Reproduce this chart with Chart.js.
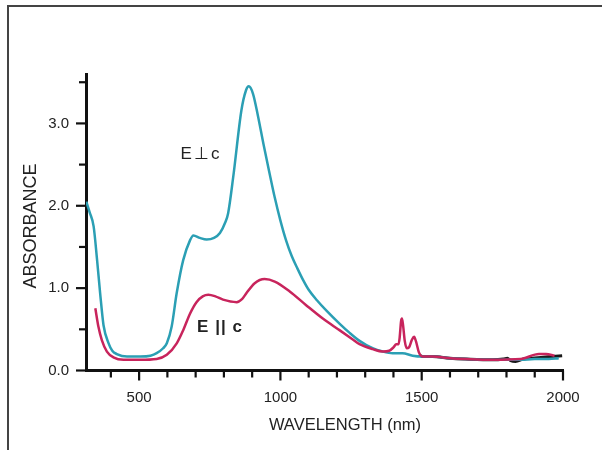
<!DOCTYPE html>
<html><head><meta charset="utf-8">
<script src="https://cdn.jsdelivr.net/npm/chart.js@4/dist/chart.umd.min.js"></script>
<style>
html,body{margin:0;padding:0;background:#fff;}
#wrap{position:relative;width:602px;height:450px;overflow:hidden;background:#fff;}
#frame{position:absolute;left:7px;top:5px;width:600px;height:450px;border-top:2px solid #444;border-left:2px solid #444;pointer-events:none;}
canvas{position:absolute;left:0;top:0;}
.t{position:absolute;font-family:"Liberation Sans",Arial,sans-serif;color:#222;white-space:nowrap;transform:translate(-50%,-50%);}
</style></head><body>
<div id="wrap">
<canvas id="c" width="602" height="450"></canvas>
<div id="frame"></div>
<div class="t" style="left:345px;top:424px;font-size:16.5px;">WAVELENGTH (nm)</div>
<div class="t" style="left:30px;top:226px;font-size:18px;transform:translate(-50%,-50%) rotate(-90deg);">ABSORBANCE</div>
<div class="t" style="left:201px;top:153px;font-size:17px;letter-spacing:2px;">E⊥c</div>
<div class="t" style="left:220px;top:327px;font-size:17px;font-weight:bold;letter-spacing:1px;">E || c</div>
</div>
<script>
// E perpendicular c (teal)
const perpWl  = [313,325,339,351,362,374,392,405,421,457,504,540,562,585,598,615,633,656,680,692,715,739,765,786,805,815,833,862,878,888,903,920,940,960,980,1000,1020,1040,1060,1080,1100,1130,1162,1209,1244,1280,1326,1362,1397,1432,1468,1503,1538,1600,1656,1750,1850,1900,1950,1985];
const perpAbs = [2.05,1.92,1.75,1.35,0.94,0.55,0.33,0.24,0.20,0.17,0.17,0.18,0.21,0.27,0.33,0.53,0.94,1.34,1.58,1.64,1.61,1.59,1.61,1.67,1.80,1.91,2.35,3.16,3.40,3.45,3.36,3.10,2.75,2.42,2.10,1.82,1.58,1.39,1.24,1.10,0.98,0.85,0.73,0.57,0.46,0.36,0.27,0.23,0.21,0.21,0.18,0.17,0.17,0.15,0.14,0.13,0.13,0.14,0.14,0.15];
// E parallel c (magenta)
const parWl  = [345,356,368,386,409,445,503,562,598,633,656,680,703,725,745,770,797,845,865,880,909,944,980,1033,1092,1150,1209,1255,1280,1326,1362,1385,1400,1410,1418,1422,1427,1430,1434,1440,1447,1455,1465,1473,1480,1490,1503,1538,1600,1656,1750,1850,1915,1940,1970];
const parAbs = [0.755,0.53,0.37,0.23,0.16,0.13,0.13,0.14,0.19,0.33,0.49,0.69,0.83,0.90,0.92,0.90,0.86,0.83,0.87,0.94,1.06,1.11,1.08,0.96,0.79,0.63,0.49,0.38,0.32,0.26,0.23,0.24,0.28,0.32,0.32,0.40,0.60,0.63,0.55,0.36,0.27,0.28,0.37,0.41,0.35,0.22,0.17,0.17,0.15,0.14,0.13,0.14,0.20,0.20,0.18];
// shared black trace at long wavelengths
const tailWl  = [1490,1503,1538,1600,1656,1750,1790,1803,1815,1832,1860,1891,1930,1962,1997];
const tailAbs = [0.19,0.17,0.17,0.15,0.14,0.13,0.14,0.15,0.12,0.11,0.14,0.15,0.16,0.17,0.18];

const xTickValues  = [400,500,600,700,800,900,1000,1100,1200,1300,1400,1500,1600,1700,1800,1900,2000];
const xLabelValues = [500,1000,1500,2000];
const yTickValues  = [0,0.5,1,1.5,2,2.5,3,3.5];
const yLabelValues = [0,1,2,3];

const pts = (w,a)=>w.map((x,i)=>({x:x,y:a[i]}));

const tickPlugin = {
  id:'tickMarks',
  afterDraw(chart){
    const c=chart.ctx, xs=chart.scales.x, ys=chart.scales.y, ca=chart.chartArea;
    c.save(); c.strokeStyle='#111'; c.lineWidth=2.2; c.lineCap='butt';
    xTickValues.forEach(v=>{
      const px=xs.getPixelForValue(v); const len=xLabelValues.includes(v)?10:7;
      c.beginPath(); c.moveTo(px,ca.bottom); c.lineTo(px,ca.bottom+len); c.stroke();
    });
    yTickValues.forEach(v=>{
      const py=ys.getPixelForValue(v); const len=yLabelValues.includes(v)?10:7;
      c.beginPath(); c.moveTo(ca.left,py); c.lineTo(ca.left-len,py); c.stroke();
    });
    c.restore();
  }
};

new Chart(document.getElementById('c').getContext('2d'), {
  type:'line',
  data:{datasets:[
    {label:'E || c', data:pts(parWl,parAbs), borderColor:'#c8245c', borderWidth:2.5, pointRadius:0, cubicInterpolationMode:'monotone', fill:false},
    {label:'E ⊥ c', data:pts(perpWl,perpAbs), borderColor:'#2b9fb4', borderWidth:2.5, pointRadius:0, cubicInterpolationMode:'monotone', fill:false},
    {label:'both', data:pts(tailWl,tailAbs), borderColor:'#1a1a1a', borderWidth:3, pointRadius:0, cubicInterpolationMode:'monotone', fill:false}
  ]},
  options:{
    responsive:false, animation:false, devicePixelRatio:1,
    layout:{padding:{left:0,right:39,top:74,bottom:0}},
    plugins:{legend:{display:false},tooltip:{enabled:false}},
    scales:{
      x:{type:'linear',min:312,max:2000,
        afterBuildTicks(s){s.ticks=xTickValues.map(v=>({value:v}));},
        afterFit(s){s.height=79.5;},
        grid:{display:false,drawTicks:false},
        border:{display:true,color:'#111',width:3},
        ticks:{padding:18,autoSkip:false,maxRotation:0,color:'#222',font:{family:'Liberation Sans',size:15},
          callback:v=>xLabelValues.includes(v)?String(v):''}
      },
      y:{type:'linear',min:0,max:3.6,
        afterBuildTicks(s){s.ticks=yTickValues.map(v=>({value:v}));},
        afterFit(s){s.width=86;},
        grid:{display:false,drawTicks:false},
        border:{display:true,color:'#111',width:3},
        ticks:{padding:17,autoSkip:false,color:'#222',font:{family:'Liberation Sans',size:15},
          callback:v=>yLabelValues.includes(v)?v.toFixed(1):''}
      }
    }
  },
  plugins:[tickPlugin]
});
</script>
</body></html>
